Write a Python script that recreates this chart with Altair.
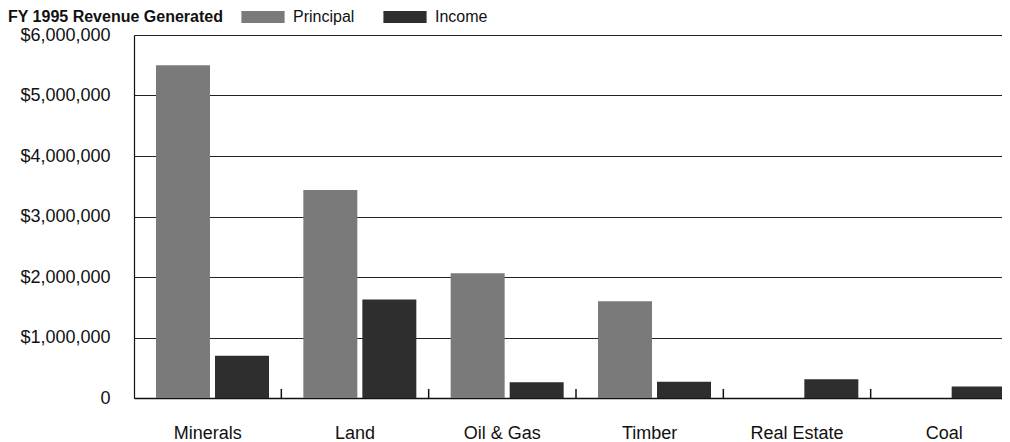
import altair as alt
import pandas as pd

categories = ["Minerals", "Land", "Oil & Gas", "Timber", "Real Estate", "Coal"]
series = ["Principal", "Income"]
principal = [5500000, 3440000, 2060000, 1600000, 0, 0]
income = [700000, 1630000, 260000, 270000, 310000, 190000]
y_ticks = [0, 1000000, 2000000, 3000000, 4000000, 5000000, 6000000]
colors = ["#7a7a7a", "#2e2e2e"]
title_text = "FY 1995 Revenue Generated"

FONT = "Liberation Sans"

df = pd.DataFrame({
    "category": categories * 2,
    "series": [series[0]] * len(categories) + [series[1]] * len(categories),
    "value": principal + income,
})
tick_df = pd.DataFrame({"category": categories})

x_scale = alt.Scale(domain=categories, range=[0, 884], paddingInner=0, paddingOuter=0)

bars = alt.Chart(df).mark_bar().encode(
    x=alt.X(
        "category:N",
        sort=categories,
        title=None,
        scale=x_scale,
        axis=alt.Axis(
            labelFont=FONT,
            labelFontSize=18,
            labelColor="#111111",
            labelAngle=0,
            labelPadding=26,
            ticks=False,
            domainColor="#111111",
            domainWidth=1.5,
            grid=False,
        ),
    ),
    xOffset=alt.XOffset(
        "series:N",
        sort=series,
        scale=alt.Scale(domain=series, range=[22, 135], paddingInner=0.085, paddingOuter=0),
    ),
    y=alt.Y(
        "value:Q",
        title=None,
        scale=alt.Scale(domain=[0, 6000000], nice=False),
        axis=alt.Axis(
            values=y_ticks,
            labelExpr="datum.value == 0 ? '0' : '$' + format(datum.value, ',')",
            labelFont=FONT,
            labelFontSize=18,
            labelColor="#111111",
            labelPadding=24,
            ticks=False,
            tickSize=0,
            domainColor="#111111",
            domainWidth=1.2,
            grid=True,
            gridColor="#222222",
            gridWidth=1.2,
        ),
    ),
    color=alt.Color(
        "series:N",
        sort=series,
        scale=alt.Scale(domain=series, range=colors),
        legend=alt.Legend(
            title=title_text,
            orient="none",
            legendX=-126,
            legendY=-26,
            padding=0,
            direction="horizontal",
            titleOrient="left",
            titleLimit=600,
            titleBaseline="middle",
            titleFont=FONT,
            titleFontSize=16,
            titleFontWeight="bold",
            titleColor="#111111",
            titlePadding=31,
            labelFont=FONT,
            labelFontSize=16,
            labelColor="#111111",
            labelOffset=22,
            columnPadding=28,
            symbolType="M-3.6,-1H3.6V1H-3.6Z",
            symbolSize=144,
            symbolStrokeWidth=0,
            symbolOpacity=1,
        ),
    ),
)

ticks = alt.Chart(tick_df).mark_rule(color="#111111", strokeWidth=1.5).encode(
    x=alt.X("category:N", sort=categories, bandPosition=1, scale=x_scale, title=None),
    y=alt.datum(0),
    y2=alt.datum(150000),
)

chart = alt.layer(bars, ticks).properties(
    width=868,
    height=363,
    autosize=alt.AutoSizeParams(type="none"),
    padding={"left": 126, "top": 27, "right": 0, "bottom": 44},
    background="white",
).configure_view(strokeWidth=0)

chart.save("out.html", embed_options={"renderer": "svg", "actions": False})
